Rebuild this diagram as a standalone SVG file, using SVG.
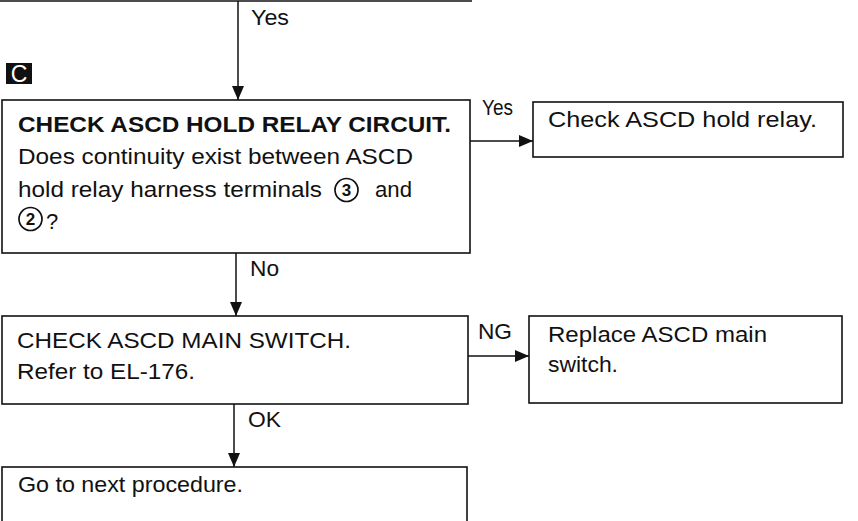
<svg xmlns="http://www.w3.org/2000/svg" width="858" height="521" viewBox="0 0 858 521">
<defs>
<marker id="ah" markerUnits="userSpaceOnUse" markerWidth="14" markerHeight="12" refX="14" refY="6" orient="auto">
<path d="M0,0 L14,6 L0,12 z" fill="#111"/>
</marker>
<style>
.box{fill:#fff;stroke:#111;stroke-width:1.6}
.ln{fill:none;stroke:#111;stroke-width:1.5}
.t{font-family:"Liberation Sans",Arial,sans-serif;font-size:22px;fill:#111}
.b{font-weight:bold}
.circ{fill:none;stroke:#111;stroke-width:1.7}
.cn{font-family:"Liberation Sans",Arial,sans-serif;font-size:17px;font-weight:bold;fill:#111;text-anchor:middle}
</style>
</defs>
<rect width="858" height="521" fill="#fff"/>
<g id="connectors">
<line class="ln" x1="0" y1="1" x2="472" y2="1"/>
<line class="ln" x1="238" y1="1" x2="238" y2="100" marker-end="url(#ah)"/>
<text class="t" x="251" y="25" textLength="38" lengthAdjust="spacingAndGlyphs">Yes</text>
<line class="ln" x1="470" y1="141" x2="533" y2="141" marker-end="url(#ah)"/>
<text class="t" x="482" y="115" textLength="31" lengthAdjust="spacingAndGlyphs">Yes</text>
<line class="ln" x1="236" y1="253" x2="236" y2="316" marker-end="url(#ah)"/>
<text class="t" x="250" y="276" textLength="29" lengthAdjust="spacingAndGlyphs">No</text>
<line class="ln" x1="468" y1="356" x2="529" y2="356" marker-end="url(#ah)"/>
<text class="t" x="478" y="339" textLength="34" lengthAdjust="spacingAndGlyphs">NG</text>
<line class="ln" x1="234" y1="404" x2="234" y2="467" marker-end="url(#ah)"/>
<text class="t" x="248" y="427" textLength="33" lengthAdjust="spacingAndGlyphs">OK</text>
</g>
<g id="badge-c">
<rect x="6" y="63" width="26" height="21" fill="#111"/>
<text x="19" y="82" font-family="Liberation Sans,Arial,sans-serif" font-size="23" fill="#fff" text-anchor="middle">C</text>
</g>
<g id="node-hold-relay-circuit">
<rect class="box" x="2" y="100" width="468" height="153"/>
<text class="t b" x="18" y="132" textLength="433" lengthAdjust="spacingAndGlyphs">CHECK ASCD HOLD RELAY CIRCUIT.</text>
<text class="t" x="18" y="164" textLength="395" lengthAdjust="spacingAndGlyphs">Does continuity exist between ASCD</text>
<text class="t" x="18" y="197" textLength="304" lengthAdjust="spacingAndGlyphs">hold relay harness terminals</text>
<circle class="circ" cx="346.5" cy="190" r="11.5"/>
<text class="cn" x="346.5" y="196">3</text>
<text class="t" x="375" y="197" textLength="37" lengthAdjust="spacingAndGlyphs">and</text>
<circle class="circ" cx="30.5" cy="219" r="11.5"/>
<text class="cn" x="30.5" y="225">2</text>
<text class="t" x="46" y="229">?</text>
</g>
<g id="node-check-hold-relay">
<rect class="box" x="533" y="102" width="310" height="55"/>
<text class="t" x="548" y="127" textLength="269" lengthAdjust="spacingAndGlyphs">Check ASCD hold relay.</text>
</g>
<g id="node-main-switch">
<rect class="box" x="2" y="316" width="466" height="88"/>
<text class="t" x="17" y="348" textLength="334" lengthAdjust="spacingAndGlyphs">CHECK ASCD MAIN SWITCH.</text>
<text class="t" x="17" y="379" textLength="178" lengthAdjust="spacingAndGlyphs">Refer to EL-176.</text>
</g>
<g id="node-replace-switch">
<rect class="box" x="529" y="316" width="313" height="87"/>
<text class="t" x="548" y="342" textLength="219" lengthAdjust="spacingAndGlyphs">Replace ASCD main</text>
<text class="t" x="548" y="372" textLength="70" lengthAdjust="spacingAndGlyphs">switch.</text>
</g>
<g id="node-next-procedure">
<rect class="box" x="2" y="467" width="465" height="70"/>
<text class="t" x="18" y="492" textLength="225" lengthAdjust="spacingAndGlyphs">Go to next procedure.</text>
</g>
</svg>
